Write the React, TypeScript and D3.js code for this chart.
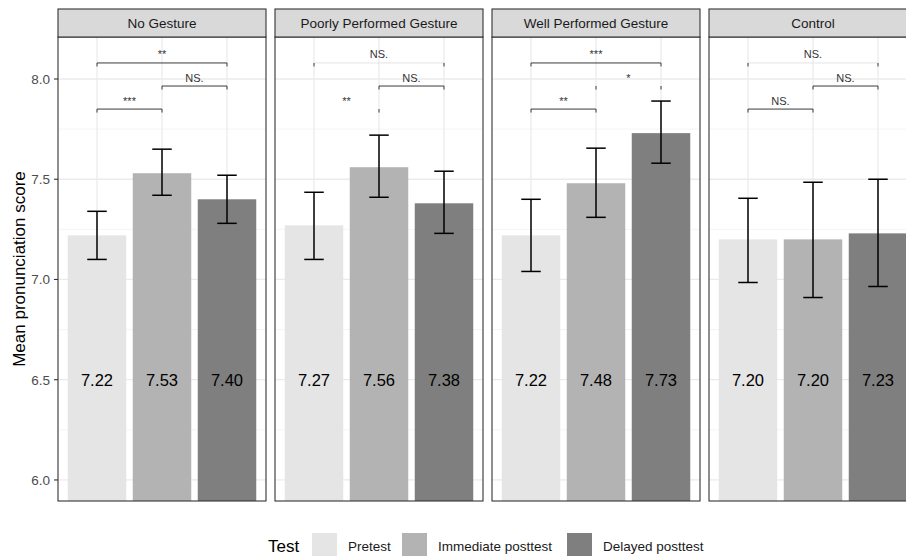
import React from "react";
import * as d3 from "d3";

const panels = ["No Gesture", "Poorly Performed Gesture", "Well Performed Gesture", "Control"];
const tests = ["Pretest", "Immediate posttest", "Delayed posttest"];
const fills = ["#e5e5e5", "#b3b3b3", "#7f7f7f"];

// mean per panel, ordered by test
const meanNoGesture = [7.22, 7.53, 7.40];
const meanPoor = [7.27, 7.56, 7.38];
const meanWell = [7.22, 7.48, 7.73];
const meanControl = [7.20, 7.20, 7.23];
const lowNoGesture = [7.10, 7.42, 7.28];
const lowPoor = [7.10, 7.41, 7.23];
const lowWell = [7.04, 7.31, 7.58];
const lowControl = [6.985, 6.91, 6.965];
const highNoGesture = [7.34, 7.65, 7.52];
const highPoor = [7.435, 7.72, 7.54];
const highWell = [7.40, 7.655, 7.89];
const highControl = [7.405, 7.485, 7.50];

const means = [meanNoGesture, meanPoor, meanWell, meanControl];
const lows = [lowNoGesture, lowPoor, lowWell, lowControl];
const highs = [highNoGesture, highPoor, highWell, highControl];
const valueLabels = [
  ["7.22", "7.53", "7.40"],
  ["7.27", "7.56", "7.38"],
  ["7.22", "7.48", "7.73"],
  ["7.20", "7.20", "7.23"],
];

const yTicks = [6.0, 6.5, 7.0, 7.5, 8.0];
const yMinor = [6.25, 6.75, 7.25, 7.75];

// significance brackets: panel, from test, to test, level, label, line style, ticks
type Br = { p: number; a: number; b: number; y: number; label: string; line: "solid" | "faint" | "none"; tl: boolean; tr: boolean };
const brackets: Br[] = [
  { p: 0, a: 0, b: 2, y: 8.08, label: "**", line: "solid", tl: true, tr: true },
  { p: 0, a: 1, b: 2, y: 7.965, label: "NS.", line: "solid", tl: true, tr: true },
  { p: 0, a: 0, b: 1, y: 7.85, label: "***", line: "solid", tl: true, tr: true },
  { p: 1, a: 0, b: 2, y: 8.08, label: "NS.", line: "faint", tl: true, tr: true },
  { p: 1, a: 1, b: 2, y: 7.965, label: "NS.", line: "solid", tl: true, tr: true },
  { p: 1, a: 0, b: 1, y: 7.85, label: "**", line: "none", tl: false, tr: true },
  { p: 2, a: 0, b: 2, y: 8.08, label: "***", line: "solid", tl: true, tr: true },
  { p: 2, a: 1, b: 2, y: 7.965, label: "*", line: "none", tl: true, tr: true },
  { p: 2, a: 0, b: 1, y: 7.85, label: "**", line: "solid", tl: true, tr: true },
  { p: 3, a: 0, b: 2, y: 8.08, label: "NS.", line: "faint", tl: true, tr: true },
  { p: 3, a: 1, b: 2, y: 7.965, label: "NS.", line: "solid", tl: true, tr: true },
  { p: 3, a: 0, b: 1, y: 7.85, label: "NS.", line: "solid", tl: true, tr: true },
];

const FONT = "'Liberation Sans', Arial, Helvetica, sans-serif";

export default function App() {
  const W = 906, H = 556;
  const panelLeft = 58, panelW = 208, panelGap = 9;
  const panelTop = 37, panelBottom = 501, stripTop = 9;

  const y = d3.scaleLinear().domain([5.895, 8.2095]).range([panelBottom, panelTop]);
  const px = d3.scaleBand<string>().domain(panels)
    .range([panelLeft, panelLeft + panels.length * panelW + (panels.length - 1) * panelGap])
    .paddingInner(panelGap / (panelW + panelGap)).paddingOuter(0);
  const x = d3.scaleBand<string>().domain(tests).range([0, panelW]).paddingInner(0.1).paddingOuter(0.15);
  const bw = x.bandwidth();
  const step = x.step();
  const cx = (t: number) => (x(tests[t]) as number) + bw / 2;

  return (
    <svg width={W} height={H} style={{ position: "absolute", left: 0, top: 0, display: "block" }} fontFamily={FONT}>
      <rect x={0} y={0} width={W} height={H} fill="#fff" />
      {panels.map((p, pi) => {
        const x0 = px(p) as number;
        return (
          <g key={p} transform={`translate(${x0},0)`}>
            <rect x={0} y={panelTop} width={panelW} height={panelBottom - panelTop} fill="#fff" />
            {yMinor.map((v) => (
              <line key={"mi" + v} x1={0} x2={panelW} y1={y(v)} y2={y(v)} stroke="#f2f2f2" strokeWidth={0.8} />
            ))}
            {yTicks.map((v) => (
              <line key={"ma" + v} x1={0} x2={panelW} y1={y(v)} y2={y(v)} stroke="#ebebeb" strokeWidth={1.3} />
            ))}
            {tests.map((t, ti) => (
              <line key={"vx" + t} x1={cx(ti)} x2={cx(ti)} y1={panelTop} y2={panelBottom} stroke="#ebebeb" strokeWidth={1.3} />
            ))}
            {tests.map((t, ti) => (
              <rect key={"bar" + t} x={x(t)} width={bw} y={y(means[pi][ti])}
                height={panelBottom - y(means[pi][ti])} fill={fills[ti]} />
            ))}
            {tests.map((t, ti) => {
              const c = cx(ti), hw = step * 0.15;
              return (
                <g key={"eb" + t} stroke="#000" strokeWidth={1.5}>
                  <line x1={c} x2={c} y1={y(lows[pi][ti])} y2={y(highs[pi][ti])} />
                  <line x1={c - hw} x2={c + hw} y1={y(lows[pi][ti])} y2={y(lows[pi][ti])} />
                  <line x1={c - hw} x2={c + hw} y1={y(highs[pi][ti])} y2={y(highs[pi][ti])} />
                </g>
              );
            })}
            {tests.map((t, ti) => (
              <text key={"vl" + t} x={cx(ti)} y={y(6.5)} dy="0.36em" textAnchor="middle" fontSize={16.5} fill="#000">
                {valueLabels[pi][ti]}
              </text>
            ))}
            {brackets.filter((b) => b.p === pi).map((b, bi) => {
              const x1 = cx(b.a), x2 = cx(b.b), yy = y(b.y);
              return (
                <g key={"br" + bi}>
                  {b.line !== "none" && (
                    <line x1={x1} x2={x2} y1={yy} y2={yy} stroke={b.line === "solid" ? "#3a3a3a" : "#e4e4e4"} strokeWidth={1} />
                  )}
                  {b.tl && <line x1={x1} x2={x1} y1={yy} y2={yy + 3.5} stroke="#3a3a3a" strokeWidth={1} />}
                  {b.tr && <line x1={x2} x2={x2} y1={yy} y2={yy + 3.5} stroke="#3a3a3a" strokeWidth={1} />}
                  <text x={(x1 + x2) / 2} y={yy - 4.5} textAnchor="middle" fontSize={11} fill="#333">{b.label}</text>
                </g>
              );
            })}
            <rect x={0} y={panelTop} width={panelW} height={panelBottom - panelTop} fill="none" stroke="#333" strokeWidth={1.1} />
            <rect x={0} y={stripTop} width={panelW} height={panelTop - stripTop} fill="#d9d9d9" stroke="#333" strokeWidth={1.1} />
            <text x={panelW / 2} y={(stripTop + panelTop) / 2} dy="0.36em" textAnchor="middle" fontSize={13.5} fill="#1a1a1a">{p}</text>
          </g>
        );
      })}
      {/* y axis */}
      {yTicks.map((v) => (
        <g key={"yt" + v}>
          <line x1={panelLeft - 4} x2={panelLeft} y1={y(v)} y2={y(v)} stroke="#333" strokeWidth={1.1} />
          <text x={panelLeft - 8} y={y(v)} dy="0.36em" textAnchor="end" fontSize={13.5} fill="#4d4d4d">{d3.format(".1f")(v)}</text>
        </g>
      ))}
      <text transform={`translate(18.5,${(panelTop + panelBottom) / 2}) rotate(-90)`} dy="0.36em" textAnchor="middle" fontSize={17} fill="#000">
        Mean pronunciation score
      </text>
      {/* legend */}
      <g>
        <text x={268} y={546} dy="0.36em" fontSize={17} fill="#000">Test</text>
        {tests.map((t, i) => {
          const kx = [312, 402, 567][i];
          return (
            <g key={"lg" + t}>
              <rect x={kx} y={533} width={25} height={25} fill={fills[i]} />
              <text x={kx + 36} y={546} dy="0.36em" fontSize={13.5} fill="#1a1a1a">{t}</text>
            </g>
          );
        })}
      </g>
    </svg>
  );
}
